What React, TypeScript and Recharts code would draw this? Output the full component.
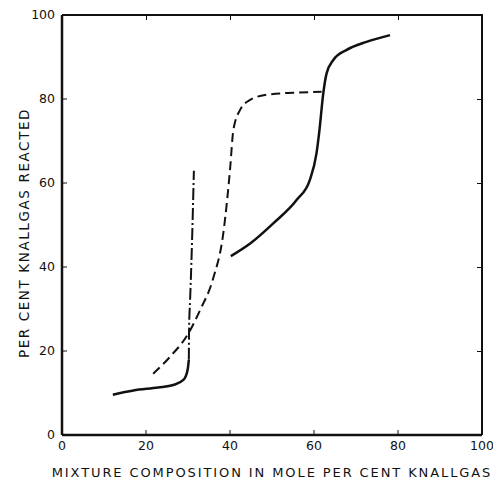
import { LineChart, Line, XAxis, YAxis } from 'recharts';

// Mole per cent knallgas (x) vs per cent knallgas reacted (y)
const solidLow = [
  { x: 12.1, y: 9.6 },
  { x: 17, y: 10.6 },
  { x: 22.9, y: 11.3 },
  { x: 26.5, y: 11.9 },
  { x: 28.9, y: 13.1 },
  { x: 29.9, y: 15.5 },
  { x: 30.2, y: 17.9 },
];

const dashDot = [
  { x: 30.2, y: 17.9 },
  { x: 30.25, y: 25 },
  { x: 30.5, y: 32.1 },
  { x: 30.9, y: 44 },
  { x: 31.4, y: 62.9 },
];

const dashed = [
  { x: 21.7, y: 14.6 },
  { x: 25.7, y: 18.6 },
  { x: 30.1, y: 24.2 },
  { x: 32.9, y: 29.8 },
  { x: 36, y: 37.3 },
  { x: 38.4, y: 48 },
  { x: 40, y: 63.1 },
  { x: 40.8, y: 72.6 },
  { x: 42.4, y: 77.4 },
  { x: 44.8, y: 79.8 },
  { x: 48.7, y: 81 },
  { x: 55.1, y: 81.5 },
  { x: 61.8, y: 81.7 },
];

const solidHigh = [
  { x: 40.2, y: 42.6 },
  { x: 44.8, y: 45.6 },
  { x: 50.3, y: 50.4 },
  { x: 55.9, y: 56 },
  { x: 59, y: 60.7 },
  { x: 60.6, y: 67.1 },
  { x: 61.3, y: 72.6 },
  { x: 62.2, y: 81.3 },
  { x: 63, y: 86.1 },
  { x: 64.6, y: 89.3 },
  { x: 67.8, y: 91.7 },
  { x: 72.5, y: 93.6 },
  { x: 78.1, y: 95.2 },
];

const xTicks = [0, 20, 40, 60, 80, 100];
const yTicks = [0, 20, 40, 60, 80, 100];

const FONT = '"DejaVu Sans", Arial, sans-serif';

// plot box geometry (chart margins + axis sizes)
const W = 493;
const H = 484;
const M = { top: 15, right: 11 };
const Y_W = 62;
const X_H = 49;
const PLOT_W = W - Y_W - M.right;
const PLOT_H = H - M.top - X_H;

export default function App() {
  const tickStyle = { fill: '#111', fontSize: 12.5, fontFamily: FONT };
  const frame = { stroke: '#111', strokeWidth: 2.5 };
  const tickLn = { stroke: '#111', strokeWidth: 1 };

  return (
    <div style={{ position: 'absolute', left: 0, top: 0, width: W, height: H, background: '#fff' }}>
      <LineChart width={W} height={H} margin={{ top: M.top, right: M.right, left: 0, bottom: 0 }}>
        <XAxis
          dataKey="x"
          type="number"
          domain={[0, 100]}
          ticks={xTicks}
          height={X_H}
          tickSize={-5}
          tickMargin={11}
          tick={tickStyle}
          axisLine={frame}
          tickLine={tickLn}
          label={{
            value: 'MIXTURE COMPOSITION IN MOLE PER CENT KNALLGAS',
            position: 'insideBottom',
            offset: 7,
            style: { fill: '#111', fontSize: 13, fontFamily: FONT, letterSpacing: 1.9 },
          }}
        />
        <YAxis
          type="number"
          domain={[0, 100]}
          ticks={yTicks}
          width={Y_W}
          tickSize={-5}
          tickMargin={12}
          tick={tickStyle}
          axisLine={frame}
          tickLine={tickLn}
          label={{
            value: 'PER  CENT  KNALLGAS  REACTED',
            angle: -90,
            position: 'insideLeft',
            offset: 24,
            dy: 8,
            style: { textAnchor: 'middle', fill: '#111', fontSize: 13.5, fontFamily: FONT, letterSpacing: 1.6 },
          }}
        />
        <Line
          data={solidLow}
          dataKey="y"
          type="monotone"
          stroke="#111"
          strokeWidth={2.5}
          dot={false}
          isAnimationActive={false}
        />
        <Line
          data={dashDot}
          dataKey="y"
          type="monotone"
          stroke="#111"
          strokeWidth={2}
          strokeDasharray="12 3 2 3"
          dot={false}
          isAnimationActive={false}
        />
        <Line
          data={dashed}
          dataKey="y"
          type="monotone"
          stroke="#111"
          strokeWidth={2}
          strokeDasharray="9 5"
          dot={false}
          isAnimationActive={false}
        />
        <Line
          data={solidHigh}
          dataKey="y"
          type="monotone"
          stroke="#111"
          strokeWidth={2.5}
          dot={false}
          isAnimationActive={false}
        />
      </LineChart>
      {/* top and right border of the box with inward ticks */}
      <div
        style={{
          position: 'absolute',
          left: Y_W,
          top: M.top - 1.25,
          width: PLOT_W + 1.25,
          height: PLOT_H + 1.25,
          boxSizing: 'border-box',
          borderTop: '2.5px solid #111',
          borderRight: '2.5px solid #111',
          pointerEvents: 'none',
        }}
      />
      {xTicks.slice(1, -1).map((t) => (
        <div
          key={`tx${t}`}
          style={{
            position: 'absolute',
            left: Y_W + (t / 100) * PLOT_W - 0.5,
            top: M.top,
            width: 1,
            height: 5,
            background: '#111',
          }}
        />
      ))}
      {yTicks.slice(1, -1).map((t) => (
        <div
          key={`ty${t}`}
          style={{
            position: 'absolute',
            left: Y_W + PLOT_W - 5,
            top: M.top + PLOT_H - (t / 100) * PLOT_H - 0.5,
            width: 5,
            height: 1,
            background: '#111',
          }}
        />
      ))}
    </div>
  );
}
